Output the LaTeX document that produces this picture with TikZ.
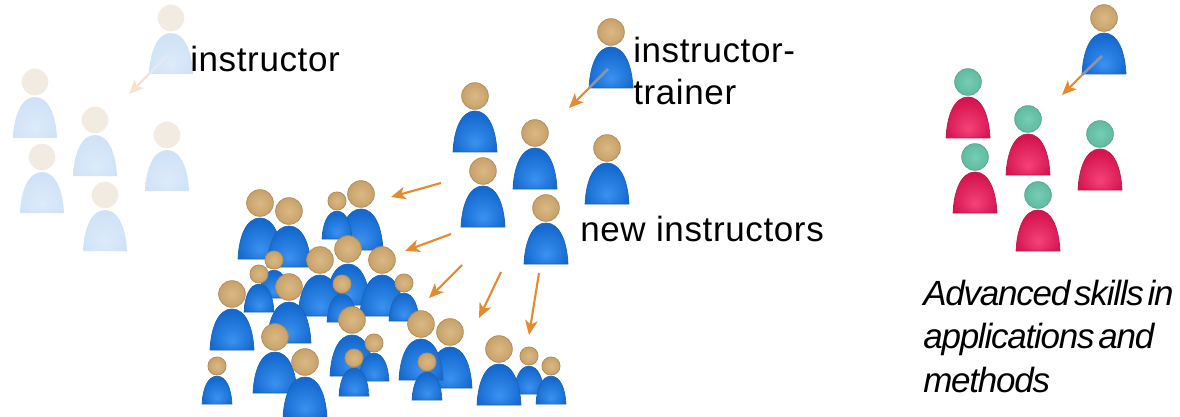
\documentclass[tikz,border=0pt]{standalone}
\usepackage{fontspec}
\usetikzlibrary{arrows.meta}
\newfontfamily\labelfont[LetterSpace=1.8]{Liberation Sans}
\newfontfamily\notefont[ItalicFeatures={LetterSpace=-3.5}]{Liberation Sans}
\definecolor{bluerim}{HTML}{1A63B8}
\definecolor{blueedge}{HTML}{1468CE}
\definecolor{bluemid}{HTML}{3A92F0}
\definecolor{tanrim}{HTML}{B08E5C}
\definecolor{tanedge}{HTML}{C9A169}
\definecolor{tanmid}{HTML}{D9B985}
\definecolor{redrim}{HTML}{B81A4C}
\definecolor{rededge}{HTML}{D4144E}
\definecolor{redmid}{HTML}{F5427A}
\definecolor{tealrim}{HTML}{5BA692}
\definecolor{tealedge}{HTML}{5FBBA0}
\definecolor{tealmid}{HTML}{76CDB4}
\definecolor{palebody}{HTML}{CFE2F7}
\definecolor{palemid}{HTML}{DDEBFA}
\definecolor{palehead}{HTML}{F2EBE1}
\definecolor{arrowtint}{HTML}{E68A2E}
\definecolor{arrowpale}{HTML}{F8E2CE}
\definecolor{arrowgrey}{HTML}{8A96A8}
\pgfdeclareradialshading{blueshade}{\pgfpoint{0bp}{-14bp}}{color(0bp)=(bluemid); color(28bp)=(blueedge); color(50bp)=(blueedge)}
\pgfdeclareradialshading{redshade}{\pgfpoint{0bp}{-14bp}}{color(0bp)=(redmid); color(28bp)=(rededge); color(50bp)=(rededge)}
\pgfdeclareradialshading{paleshade}{\pgfpoint{0bp}{-14bp}}{color(0bp)=(palemid); color(28bp)=(palebody); color(50bp)=(palebody)}
\tikzset{
	blueman/.style={draw=bluerim, line width=0.5pt, shade, shading=blueshade},
	tanhead/.style={circle, draw=tanrim, line width=0.6pt, inner sep=0pt, minimum size=20pt, inner color=tanmid, outer color=tanedge},
	redman/.style={draw=redrim, line width=0.5pt, shade, shading=redshade},
	tealhead/.style={circle, draw=tealrim, line width=0.6pt, inner sep=0pt, minimum size=20pt, inner color=tealmid, outer color=tealedge},
	paleman/.style={shade, shading=paleshade},
	palecap/.style={circle, fill=palehead, inner sep=0pt, minimum size=20pt},
	spread/.style={-{Stealth[length=11pt,width=9.5pt,inset=3pt]}, arrowtint, line width=1.6pt},
	spreadpale/.style={-{Stealth[length=11pt,width=9.5pt,inset=3pt]}, arrowpale, line width=1.6pt},
	stub/.style={arrowgrey, line width=2pt},
	stubpale/.style={palemid!80!arrowpale, line width=2pt},
	label/.style={inner sep=0pt, anchor=base west, font=\labelfont\fontsize{26.25}{32}\selectfont},
	note/.style={inner sep=0pt, anchor=base west, font=\notefont\itshape\fontsize{26.25}{32.5}\selectfont},
}
\newcommand{\person}[6]{%
	\begin{scope}[shift={(#2,#3)},scale=#4,transform shape]
		\path[#5] (-22,56) .. controls (-21,34) and (-14,15) .. (0,15) .. controls (14,15) and (21,34) .. (22,56) -- cycle;
		\node[#6] (#1) at (0,0) {};
	\end{scope}%
}
\newcommand{\notegap}{\hspace{-3.5pt} }
\begin{document}
\begin{tikzpicture}[x=0.75pt,y=-0.75pt]
	\useasboundingbox (0,0) rectangle (1180,417);

	\person{paleT}{171}{18}{1}{paleman}{palecap}
	\person{paleA}{35}{82}{1}{paleman}{palecap}
	\person{paleB}{95}{120}{1}{paleman}{palecap}
	\person{paleC}{167}{135}{1}{paleman}{palecap}
	\person{paleD}{42}{157}{1}{paleman}{palecap}
	\person{paleE}{105}{195}{1}{paleman}{palecap}
	\coordinate (paleS) at (168,55);
	\coordinate (paleM) at (149,74);
	\coordinate (paleX) at (129,94);
	\draw[stubpale] (paleS) -- (paleM);
	\draw[spreadpale] (paleM) -- (paleX);
	\node[label] (instr) at (190,72) {instructor};

	\person{trainer}{611}{32}{1}{blueman}{tanhead}
	\person{newA}{475}{96}{1}{blueman}{tanhead}
	\person{newB}{535}{133}{1}{blueman}{tanhead}
	\person{newC}{607}{148}{1}{blueman}{tanhead}
	\person{newD}{483}{171}{1}{blueman}{tanhead}
	\person{newE}{546}{208}{1}{blueman}{tanhead}
	\coordinate (trainS) at (608,69);
	\coordinate (trainM) at (590,87);
	\coordinate (trainX) at (569,108);
	\draw[stub] (trainS) -- (trainM);
	\draw[spread] (trainM) -- (trainX);
	\node[label,align=left] (trainlab) at (633,105) {instructor-\\trainer};
	\node[label] (newlab) at (580,241) {new instructors};

	\person{cA}{260}{203}{1}{blueman}{tanhead}
	\person{cB}{289}{211}{1}{blueman}{tanhead}
	\person{cC}{361}{194}{1}{blueman}{tanhead}
	\person{cD}{337}{201}{0.68}{blueman}{tanhead}
	\person{cE}{348}{249}{1}{blueman}{tanhead}
	\person{cF}{320}{260}{1}{blueman}{tanhead}
	\person{cG}{382}{260}{1}{blueman}{tanhead}
	\person{cH}{404}{283}{0.68}{blueman}{tanhead}
	\person{cI}{342}{284}{0.68}{blueman}{tanhead}
	\person{cJ}{274}{260}{0.68}{blueman}{tanhead}
	\person{cK}{259}{274}{0.68}{blueman}{tanhead}
	\person{cL}{289}{287}{1}{blueman}{tanhead}
	\person{cM}{232}{294}{1}{blueman}{tanhead}
	\person{cN}{352}{320}{1}{blueman}{tanhead}
	\person{cO}{374}{343}{0.68}{blueman}{tanhead}
	\person{cP}{354}{358}{0.68}{blueman}{tanhead}
	\person{cQ}{450}{332}{1}{blueman}{tanhead}
	\person{cR}{421}{324}{1}{blueman}{tanhead}
	\person{cS}{427}{362}{0.68}{blueman}{tanhead}
	\person{cT}{275}{337}{1}{blueman}{tanhead}
	\person{cU}{305}{362}{1}{blueman}{tanhead}
	\person{cV}{217}{366}{0.68}{blueman}{tanhead}
	\person{cW}{529}{356}{0.68}{blueman}{tanhead}
	\person{cX}{499}{349}{1}{blueman}{tanhead}
	\person{cY}{551}{366}{0.68}{blueman}{tanhead}

	\coordinate (s1) at (441,183);
	\coordinate (x1) at (391,197);
	\coordinate (s2) at (451,234);
	\coordinate (x2) at (405,251);
	\coordinate (s3) at (462,265);
	\coordinate (x3) at (429,298);
	\coordinate (s4) at (501,272);
	\coordinate (x4) at (479,318);
	\coordinate (s5) at (539,273);
	\coordinate (x5) at (529,335);
	\draw[spread] (s1) -- (x1);
	\draw[spread] (s2) -- (x2);
	\draw[spread] (s3) -- (x3);
	\draw[spread] (s4) -- (x4);
	\draw[spread] (s5) -- (x5);

	\person{topR}{1104}{18}{1}{blueman}{tanhead}
	\person{redA}{968}{82}{1}{redman}{tealhead}
	\person{redB}{1028}{119}{1}{redman}{tealhead}
	\person{redC}{1100}{134}{1}{redman}{tealhead}
	\person{redD}{975}{157}{1}{redman}{tealhead}
	\person{redE}{1038}{195}{1}{redman}{tealhead}
	\coordinate (topS) at (1102,56);
	\coordinate (topM) at (1082,75);
	\coordinate (topX) at (1062,95);
	\draw[stub] (topS) -- (topM);
	\draw[spread] (topM) -- (topX);
	\node[note,align=left] (skills) at (923,392) {Advanced\notegap skills\notegap in\\applications\notegap and\\methods};
\end{tikzpicture}
\end{document}
